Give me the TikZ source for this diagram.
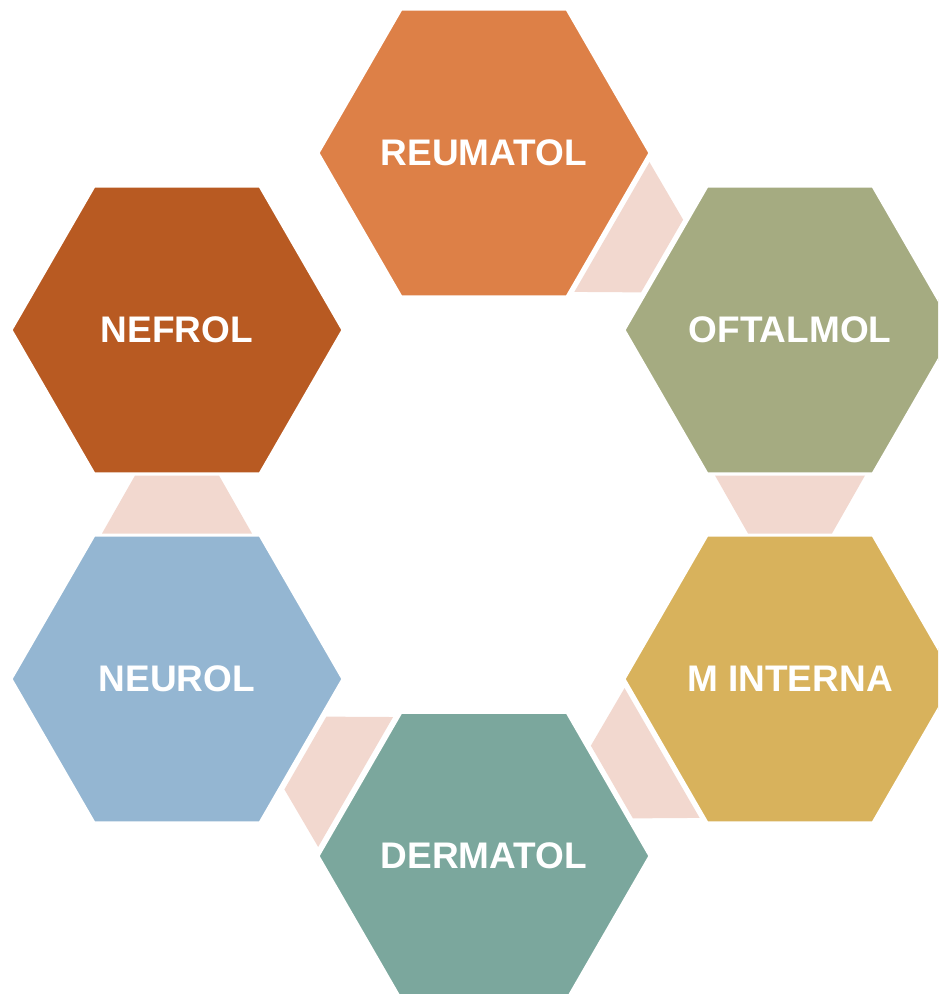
\documentclass[tikz,border=0pt]{standalone}
\usepackage{fontspec}
\setmainfont{Liberation Sans}
\usetikzlibrary{shapes.geometric,calc}
\definecolor{reumcol}{HTML}{DD8047}
\definecolor{oftcol}{HTML}{A5AB81}
\definecolor{mintcol}{HTML}{D8B25C}
\definecolor{dermcol}{HTML}{7BA79D}
\definecolor{neurcol}{HTML}{94B6D2}
\definecolor{nefcol}{HTML}{B85A22}
\definecolor{linkcol}{HTML}{F2D8CF}
\tikzset{
  hexa/.style={regular polygon, regular polygon sides=6, minimum size=332pt,
    inner sep=0pt, draw=white, line width=3pt,
    label={[text=white,font=\fontsize{37}{44}\selectfont\bfseries]center:#1}},
  link/.style={fill=linkcol}
}
\begin{document}
\begin{tikzpicture}[x=1pt,y=-1pt]
\clip (0,0) rectangle (938,994);
% hexagons
    \node[hexa=REUMATOL,fill=reumcol]  (reum) at (484,153) {};
    \node[hexa=OFTALMOL,fill=oftcol]   (oft)  at (790,330) {};
    \node[hexa=M INTERNA,fill=mintcol] (mint) at (790,679) {};
    \node[hexa=DERMATOL,fill=dermcol]  (derm) at (484,856) {};
    \node[hexa=NEUROL,fill=neurcol]    (neur) at (177,679) {};
    \node[hexa=NEFROL,fill=nefcol]     (nef)  at (177,330) {};
% links, wide end at the source
    \foreach \s/\t in {reum/oft,oft/mint,mint/derm,derm/neur,neur/nef}{
      \coordinate (m) at ($(\s)!0.5!(\t)$);
      \coordinate (w) at ($(m)!29pt!(\s)$);
      \coordinate (n) at ($(m)!29pt!(\t)$);
      \fill[link] ($(w)!75pt!90:(\t)$) -- ($(n)!42pt!90:(\t)$)
        -- ($(n)!42pt!-90:(\t)$) -- ($(w)!75pt!-90:(\t)$) -- cycle;
    }
\end{tikzpicture}
\end{document}
